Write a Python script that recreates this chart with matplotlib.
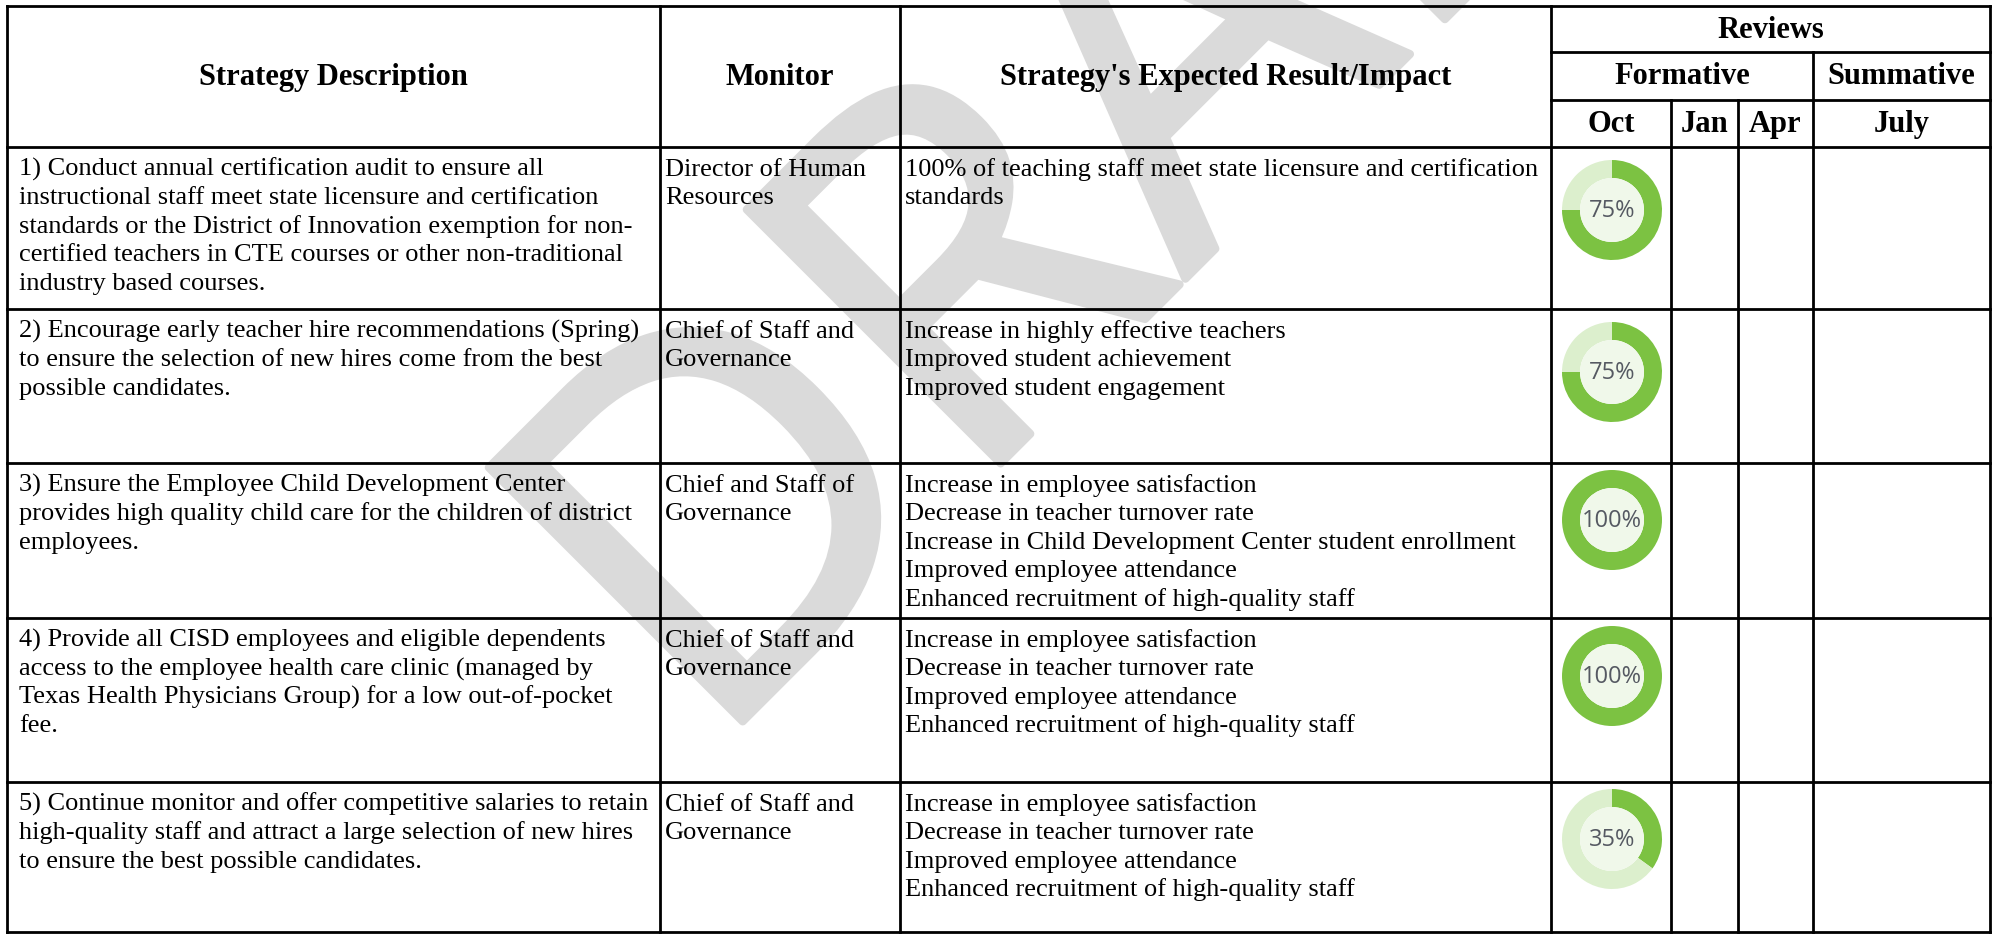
import matplotlib
matplotlib.use("Agg")
import matplotlib.pyplot as plt
from matplotlib.patches import Circle
import matplotlib.patheffects as pe
from matplotlib import font_manager

# ---------------- data ----------------
col_headers = ["Strategy Description", "Monitor", "Strategy's Expected Result/Impact"]
review_header = "Reviews"
review_groups = ["Formative", "Summative"]
review_months = ["Oct", "Jan", "Apr", "July"]

strategies = [
    ["1) Conduct annual certification audit to ensure all",
     "instructional staff meet state licensure and certification",
     "standards or the District of Innovation exemption for non-",
     "certified teachers in CTE courses or other non-traditional",
     "industry based courses."],
    ["2) Encourage early teacher hire recommendations (Spring)",
     "to ensure the selection of new hires come from the best",
     "possible candidates."],
    ["3) Ensure the Employee Child Development Center",
     "provides high quality child care for the children of district",
     "employees."],
    ["4) Provide all CISD employees and eligible dependents",
     "access to the employee health care clinic (managed by",
     "Texas Health Physicians Group) for a low out-of-pocket",
     "fee."],
    ["5) Continue monitor and offer competitive salaries to retain",
     "high-quality staff and attract a large selection of new hires",
     "to ensure the best possible candidates."],
]
monitors = [
    ["Director of Human", "Resources"],
    ["Chief of Staff and", "Governance"],
    ["Chief and Staff of", "Governance"],
    ["Chief of Staff and", "Governance"],
    ["Chief of Staff and", "Governance"],
]
results = [
    ["100% of teaching staff meet state licensure and certification",
     "standards"],
    ["Increase in highly effective teachers",
     "Improved student achievement",
     "Improved student engagement"],
    ["Increase in employee satisfaction",
     "Decrease in teacher turnover rate",
     "Increase in Child Development Center student enrollment",
     "Improved employee attendance",
     "Enhanced recruitment of high-quality staff"],
    ["Increase in employee satisfaction",
     "Decrease in teacher turnover rate",
     "Improved employee attendance",
     "Enhanced recruitment of high-quality staff"],
    ["Increase in employee satisfaction",
     "Decrease in teacher turnover rate",
     "Improved employee attendance",
     "Enhanced recruitment of high-quality staff"],
]
oct_progress = [75, 75, 100, 100, 35]
watermark = "DRAFT"

# ---------------- layout ----------------
W, H = 1993, 937
xs = [7, 660, 900, 1551, 1671, 1738, 1813, 1990]
hy = [7, 53, 101, 148]
row_y = [148, 310, 464, 619, 783, 933]
donut_cy = [211, 373, 521, 677, 840]
donut_cx = 1612
donut_r = 51

SERIF = "Liberation Serif"
body_fs = 19
head_fs = 22
line_h = 28.5
lw = 2.0

installed = {f.name for f in font_manager.fontManager.ttflist}
wm_family = "Liberation Sans Narrow" if "Liberation Sans Narrow" in installed else "Open Sans"

fig = plt.figure(figsize=(W / 100, H / 100), dpi=100)
ax = fig.add_axes([0, 0, 1, 1])
ax.set_xlim(0, W)
ax.set_ylim(H, 0)
ax.axis("off")

# watermark
ax.text(708, 757, watermark, fontsize=362, rotation=45, rotation_mode="anchor",
        ha="left", va="baseline", color="#dadada", family=wm_family,
        zorder=0,
        path_effects=[pe.withStroke(linewidth=6, foreground="#dadada",
                                    joinstyle="round", capstyle="round")])

# grid lines
kw = dict(color="black", lw=lw, zorder=3, solid_capstyle="projecting")
ax.plot([xs[0], xs[-1]], [hy[0], hy[0]], **kw)
for y in hy[1:3]:
    ax.plot([xs[3], xs[-1]], [y, y], **kw)
for y in row_y:
    ax.plot([xs[0], xs[-1]], [y, y], **kw)
for x in [xs[0], xs[1], xs[2], xs[3], xs[-1]]:
    ax.plot([x, x], [hy[0], row_y[-1]], **kw)
ax.plot([xs[6], xs[6]], [hy[1], row_y[-1]], **kw)
for x in xs[4:6]:
    ax.plot([x, x], [hy[2], row_y[-1]], **kw)

# headers
hc = (hy[0] + hy[3]) / 2
for i, t in enumerate(col_headers):
    ax.text((xs[i] + xs[i + 1]) / 2, hc, t, ha="center", va="center",
            fontsize=head_fs, fontweight="bold", family=SERIF, zorder=4)
ax.text((xs[3] + xs[7]) / 2, (hy[0] + hy[1]) / 2, review_header, ha="center",
        va="center", fontsize=head_fs, fontweight="bold", family=SERIF, zorder=4)
ax.text((xs[3] + xs[6]) / 2, (hy[1] + hy[2]) / 2, review_groups[0], ha="center",
        va="center", fontsize=head_fs, fontweight="bold", family=SERIF, zorder=4)
ax.text((xs[6] + xs[7]) / 2, (hy[1] + hy[2]) / 2, review_groups[1], ha="center",
        va="center", fontsize=head_fs, fontweight="bold", family=SERIF, zorder=4)
for j, m in enumerate(review_months):
    ax.text((xs[3 + j] + xs[4 + j]) / 2, (hy[2] + hy[3]) / 2, m, ha="center",
            va="center", fontsize=head_fs, fontweight="bold", family=SERIF, zorder=4)

# body text
pads = [12, 5, 5]
for r in range(5):
    top = row_y[r]
    for c, lines in enumerate([strategies[r], monitors[r], results[r]]):
        for k, line in enumerate(lines):
            ax.text(xs[c] + pads[c], top + 28 + k * line_h, line, ha="left",
                    va="baseline", fontsize=body_fs, family=SERIF, zorder=4)

# donuts
dark = "#7cc242"
light = "#dcefcd"
inner = "#f0f8ea"
for r, v in enumerate(oct_progress):
    cy = donut_cy[r]
    dax = fig.add_axes([(donut_cx - donut_r) / W, (H - cy - donut_r) / H,
                        2 * donut_r / W, 2 * donut_r / H])
    dax.pie([v, 100 - v], startangle=90, counterclock=False,
            colors=[dark, light], radius=1.0,
            wedgeprops=dict(width=0.36, linewidth=0))
    dax.add_patch(Circle((0, 0), 0.64, color=inner, lw=0))
    dax.text(0, 0, f"{v}%", ha="center", va="center", fontsize=17,
             family="Open Sans", color="#555962")
    dax.set_xlim(-1.02, 1.02)
    dax.set_ylim(-1.02, 1.02)
    dax.set_aspect("equal")
    dax.axis("off")

fig.savefig("out.png", dpi=100)
